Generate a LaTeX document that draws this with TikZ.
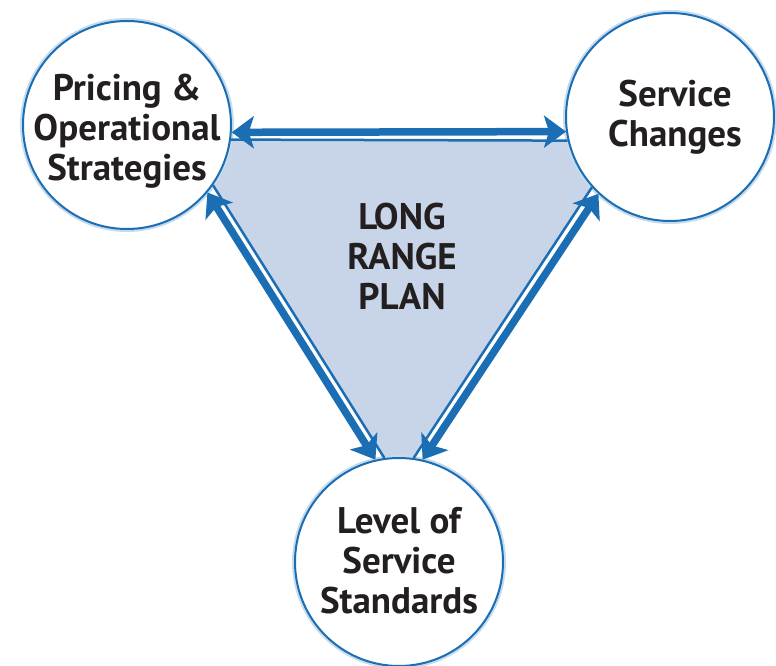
\documentclass[tikz,border=0pt]{standalone}
\usepackage{fontspec}
\setmainfont{PT Sans}
\usetikzlibrary{arrows.meta,backgrounds}
\definecolor{linkblue}{HTML}{1B6EB4}
\definecolor{planfill}{HTML}{C8D5E8}
\definecolor{inktext}{HTML}{231F20}

\begin{document}
\begin{tikzpicture}[x=1pt,y=1pt,
        topic/.style={circle, draw=linkblue, line width=2pt, fill=white,
            minimum size=208pt, inner sep=0pt,
            preaction={draw=linkblue!25, line width=6pt}},
        topic text/.style={align=center, text=inktext,
            font=\fontsize{37}{40}\selectfont\bfseries},
        bold link/.style={draw=linkblue, line width=7.5pt,
            {Stealth[length=22pt,width=32pt,inset=5pt]}-{Stealth[length=22pt,width=32pt,inset=5pt]}},
        thin link/.style={draw=linkblue, line width=2.5pt}]
            \useasboundingbox (0,0) rectangle (776,666);
            \node[topic, label={[topic text, yshift=-6pt]center:Pricing \&\\Operational\\Strategies}] (pric) at (127,541) {};
            \node[topic, label={[topic text, xshift=5pt]center:Service\\Changes}] (serv) at (670,549) {};
            \node[topic, label={[topic text, yshift=1pt]center:Level of\\Service\\Standards}] (lvl) at (399,104) {};
            \node[topic text] (plan) at (402,410) {LONG\\RANGE\\PLAN};
            \begin{scope}[on background layer]
                \fill[planfill] (pric.-8.8) -- (serv.193.3) -- (serv.222.6)
                    -- (lvl.82.8) -- (lvl.98) -- (pric.-35.6) -- cycle;
            \end{scope}
            \draw[thin link] (pric.-8.8) -- (serv.193.3);
            \draw[bold link] (pric.-4.1) -- (serv.188.6);
            \draw[thin link] (pric.-35.6) -- (lvl.98);
            \draw[bold link] (pric.-40.5) -- (lvl.103);
            \draw[thin link] (serv.222.6) -- (lvl.82.8);
            \draw[bold link] (serv.227.4) -- (lvl.77.6);
\end{tikzpicture}
\end{document}
